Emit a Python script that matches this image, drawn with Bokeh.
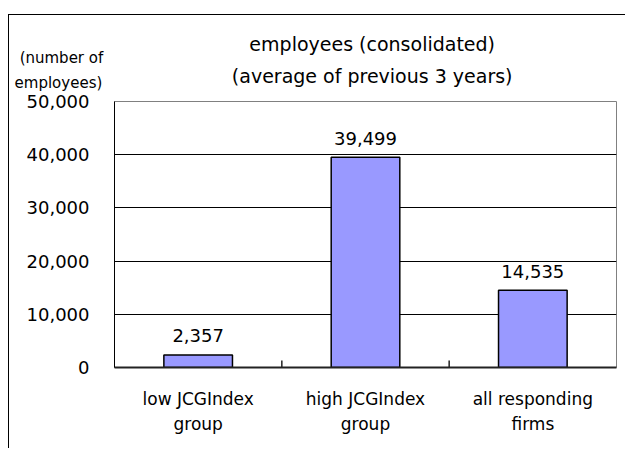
from bokeh.plotting import figure
from bokeh.models import Range1d, FixedTicker, NumeralTickFormatter, Label, Spacer
from bokeh.layouts import column, row
from bokeh.embed import file_html
from bokeh.resources import INLINE
from bokeh.core.properties import value

# ---- data ----
categories = ["low JCGIndex\ngroup", "high JCGIndex\ngroup", "all responding\nfirms"]
employees = [2357, 39499, 14535]
value_labels = ["2,357", "39,499", "14,535"]
y_ticks = [0, 10000, 20000, 30000, 40000, 50000]
title_lines = ["employees (consolidated)", "(average of previous 3 years)"]
ylabel_lines = ["(number of", "employees)"]

FONT = "DejaVu Sans"
Y_MAX = 50000
FRAME_H = 266
UNITS_PER_PX = Y_MAX / FRAME_H


def above_top(px):
    return Y_MAX + px * UNITS_PER_PX


p = figure(x_range=categories, y_range=Range1d(0, Y_MAX),
           width=617, height=434,
           min_border_left=105, min_border_right=10,
           min_border_top=86, min_border_bottom=82,
           output_backend="svg", toolbar_location=None, tools="")

p.outline_line_color = "#808080"
p.outline_line_width = 1
p.background_fill_color = "white"
p.border_fill_color = "white"

p.xgrid.grid_line_color = None
p.ygrid.ticker = FixedTicker(ticks=y_ticks)
p.ygrid.grid_line_color = "black"
p.ygrid.grid_line_width = 1

p.yaxis.ticker = FixedTicker(ticks=y_ticks)
p.yaxis.formatter = NumeralTickFormatter(format="0,0")
p.yaxis.major_tick_line_color = None
p.yaxis.minor_tick_line_color = None
p.yaxis.major_label_standoff = 19
p.yaxis.major_label_text_font = FONT
p.yaxis.major_label_text_font_size = "18px"
p.yaxis.major_label_text_color = "black"
p.yaxis.axis_line_color = "black"
p.yaxis.axis_line_width = 1

p.xaxis.axis_line_color = "#222222"
p.xaxis.axis_line_width = 2
p.xaxis.major_tick_line_color = None
p.xaxis.minor_tick_line_color = None
p.xaxis.major_label_text_font = FONT
p.xaxis.major_label_text_font_size = "17px"
p.xaxis.major_label_text_color = "black"
p.xaxis.major_label_text_line_height = 1.25
p.xaxis.major_label_standoff = 15

# bars
p.vbar(x=categories, top=employees, width=0.41,
       fill_color="#9999FF", line_color="black", line_width=1.5)

# category separator ticks on the x axis
bounds = list(range(1, len(categories)))
p.segment(x0=bounds, y0=[0] * len(bounds), x1=bounds, y1=[1300] * len(bounds),
          line_color="#222222", line_width=1.5)

# value labels
p.text(x=categories, y=employees, text=value_labels,
       text_align="center", text_baseline="middle", y_offset=-19,
       text_font=value(FONT), text_font_size="18px", text_color="black")

# title (two lines)
for line, off in zip(title_lines, [58, 26]):
    p.add_layout(Label(x=1.54, y=above_top(off), text=line,
                       text_align="center", text_baseline="middle",
                       text_font=FONT, text_font_size="19px", text_color="black"),
                 "above")

# y axis unit label (two lines)
for line, xx, off in zip(ylabel_lines, [-0.317, -0.335], [44, 19]):
    p.add_layout(Label(x=xx, y=above_top(off), text=line,
                       text_align="center", text_baseline="middle",
                       text_font=FONT, text_font_size="15px", text_color="black"),
                 "above")

p.styles = {"border-top": "1px solid black", "border-left": "1px solid black"}

layout = column(Spacer(height=14, width=626), row(Spacer(width=8, height=435), p))

open("out.html", "w").write(file_html(layout, INLINE))
